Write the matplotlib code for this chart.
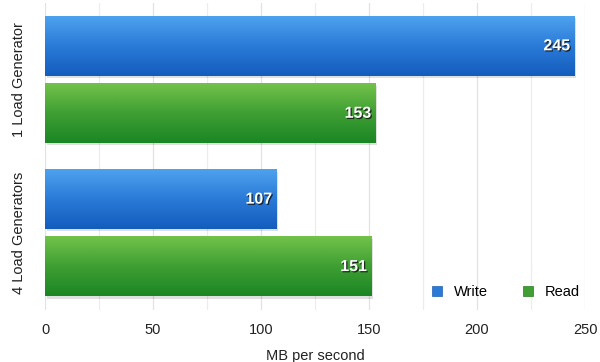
import matplotlib.pyplot as plt
import matplotlib.patheffects as pe
from matplotlib.colors import LinearSegmentedColormap
from matplotlib.ticker import MultipleLocator
import numpy as np

plt.rcParams["font.family"] = ["Liberation Sans", "DejaVu Sans"]

groups = ["1 Load Generator", "4 Load Generators"]
write = [245, 107]
read = [153, 151]

write_cmap = LinearSegmentedColormap.from_list("w", ["#4da2ee", "#2a7ad8", "#135cbd"])
read_cmap = LinearSegmentedColormap.from_list("r", ["#72c24a", "#3f9f33", "#1b8624"])

fig, ax = plt.subplots(figsize=(6.0, 3.62), dpi=100)
fig.subplots_adjust(left=0.075, right=0.975, bottom=0.145, top=0.992)

y = np.arange(len(groups))
h = 0.39
off = 0.22

grad = np.linspace(0, 1, 64).reshape(-1, 1)


def gradient_bars(bars, cmap):
    for b in bars:
        x0, y0 = b.get_x(), b.get_y()
        w, hh = b.get_width(), b.get_height()
        # soft drop shadow
        ax.add_patch(plt.Rectangle((x0 + 0.8, y0 + 0.015), w, hh, color="#000000",
                                   alpha=0.12, lw=0, zorder=2))
        ax.imshow(grad, cmap=cmap, aspect="auto", extent=(x0, x0 + w, y0 + hh, y0),
                  zorder=3, interpolation="bicubic")
        b.set_alpha(0)


wb = ax.barh(y - off, write, height=h, color="#2a7ad8", zorder=3, label="Write")
rb = ax.barh(y + off, read, height=h, color="#3f9f33", zorder=3, label="Read")
gradient_bars(wb, write_cmap)
gradient_bars(rb, read_cmap)

for bars, vals in ((wb, write), (rb, read)):
    for b, v in zip(bars, vals):
        ax.text(v - 1.8, b.get_y() + b.get_height() / 2, str(v), ha="right", va="center",
                color="white", fontsize=11.5, fontweight="bold", zorder=5,
                path_effects=[pe.withSimplePatchShadow(offset=(0.9, -0.9), shadow_rgbFace="#111111", alpha=0.8)])

ax.set_xlim(0, 250)
ax.set_ylim(1.5, -0.5)
ax.xaxis.set_major_locator(MultipleLocator(50))
ax.xaxis.set_minor_locator(MultipleLocator(25))
ax.grid(axis="x", which="major", color="#e2e2e2", lw=0.9, zorder=0)
ax.grid(axis="x", which="minor", color="#ededed", lw=0.9, zorder=0)
ax.set_axisbelow(True)
for s in ax.spines.values():
    s.set_visible(False)

ax.set_yticks(y)
ax.set_yticklabels(groups, rotation=90, va="center", fontsize=10.5, color="#222222")
ax.tick_params(axis="y", length=0, pad=14)
ax.tick_params(axis="x", which="both", length=0, pad=10, labelsize=10.5, labelcolor="#222222")
ax.set_xlabel("MB per second", fontsize=10.5, color="#222222", labelpad=8)

handles = [plt.Rectangle((0, 0), 1, 1, facecolor="#2a7ad8", edgecolor="#1d5fb0", lw=0.5),
           plt.Rectangle((0, 0), 1, 1, facecolor="#3f9f33", edgecolor="#2a7a24", lw=0.5)]
ax.legend(handles, ["Write", "Read"], loc="lower right", ncol=2, frameon=False,
          fontsize=10.5, handlelength=0.7, handleheight=0.7, columnspacing=2.4,
          handletextpad=0.8, bbox_to_anchor=(1.015, -0.01))

fig.savefig("out.png", dpi=100)
